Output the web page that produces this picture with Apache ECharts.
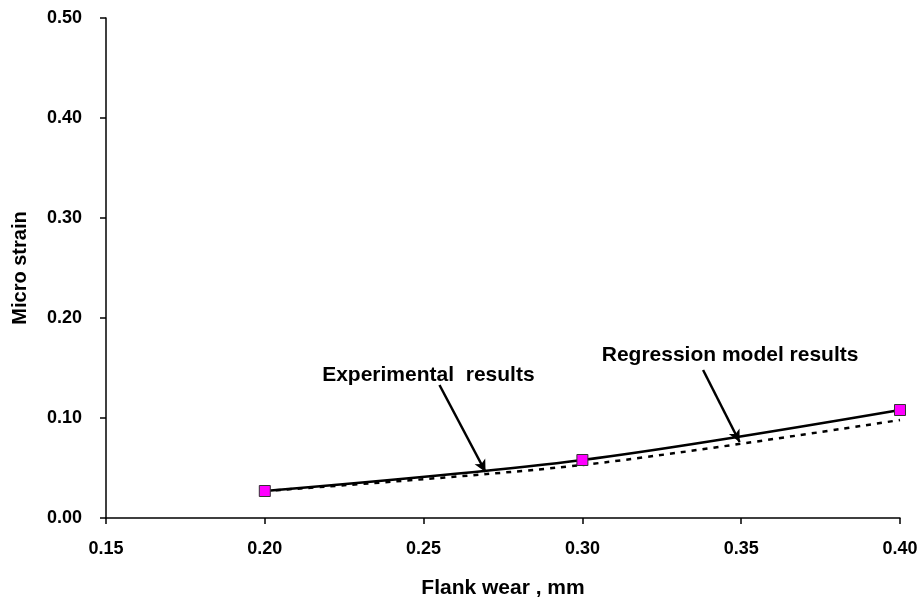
<!DOCTYPE html>
<html><head><meta charset="utf-8">
<script src="https://cdn.jsdelivr.net/npm/echarts@6/dist/echarts.min.js"></script>
<style>html,body{margin:0;padding:0;background:#fff}#c{width:918px;height:602px}</style>
</head><body><div id="c"></div>
<script>
const flankWear = [0.20, 0.30, 0.40];
const experimental = [0.027, 0.058, 0.108];
const regression = [0.027, 0.053, 0.098];
const xTicks = [0.15, 0.20, 0.25, 0.30, 0.35, 0.40];
const yTicks = [0.00, 0.10, 0.20, 0.30, 0.40, 0.50];
const labelExp = 'Experimental  results';
const labelReg = 'Regression model results';
const arrowExp = [[0.255, 0.133], [0.2695, 0.046]];
const arrowReg = [[0.338, 0.148], [0.3495, 0.076]];
const textExp = [0.2515, 0.143];
const textReg = [0.3465, 0.163];

const font = 'Liberation Sans, Arial, sans-serif';
const chart = echarts.init(document.getElementById('c'));
chart.setOption({
  animation: false,
  backgroundColor: '#fff',
  grid: {left: 106, right: 18, top: 18, bottom: 84, containLabel: false, outerBoundsMode: 'none'},
  xAxis: {
    type: 'value', min: 0.15, max: 0.40, interval: 0.05,
    name: 'Flank wear , mm', nameLocation: 'middle', nameGap: 60,
    nameTextStyle: {fontFamily: font, fontWeight: 'bold', fontSize: 21, color: '#000'},
    axisLine: {show: true, lineStyle: {color: '#000', width: 1.5}},
    axisTick: {show: true, inside: false, length: 6, lineStyle: {color: '#000', width: 1.5}},
    axisLabel: {fontFamily: font, fontWeight: 'bold', fontSize: 18, color: '#000', margin: 22,
      formatter: v => v.toFixed(2)},
    splitLine: {show: false}
  },
  yAxis: {
    type: 'value', min: 0, max: 0.5, interval: 0.1,
    name: 'Micro strain', nameLocation: 'middle', nameGap: 76, nameRotate: 90,
    nameTextStyle: {fontFamily: font, fontWeight: 'bold', fontSize: 20, color: '#000'},
    axisLine: {show: true, lineStyle: {color: '#000', width: 1.5}},
    axisTick: {show: true, inside: false, length: 6, lineStyle: {color: '#000', width: 1.5}},
    axisLabel: {fontFamily: font, fontWeight: 'bold', fontSize: 18, color: '#000', margin: 24,
      formatter: v => v.toFixed(2)},
    splitLine: {show: false}
  },
  series: [
    {
      name: 'Regression', type: 'line', z: 2,
      data: flankWear.map((x, i) => [x, regression[i]]),
      showSymbol: false, symbol: 'none', smooth: 0.3,
      lineStyle: {color: '#000', width: 2.5, type: [5, 6]}
    },
    {
      name: 'Experimental', type: 'line', z: 3,
      data: flankWear.map((x, i) => [x, experimental[i]]),
      symbol: 'rect', symbolSize: 11, smooth: 0.3,
      itemStyle: {color: '#ff00ff', borderColor: '#333', borderWidth: 1},
      lineStyle: {color: '#000', width: 2.5},
      markLine: {
        silent: true, symbol: ['none', 'arrow'], symbolSize: [9, 12],
        lineStyle: {color: '#000', width: 2.5, type: 'solid'},
        label: {show: false},
        data: [
          [{coord: arrowExp[0]}, {coord: arrowExp[1]}],
          [{coord: arrowReg[0]}, {coord: arrowReg[1]}]
        ]
      },
      markPoint: {
        silent: true, symbol: 'circle', symbolSize: 0,
        label: {show: true, position: 'inside', fontFamily: font, fontWeight: 'bold', fontSize: 21, color: '#000'},
        data: [
          {coord: textExp, label: {formatter: labelExp}},
          {coord: textReg, label: {formatter: labelReg}}
        ]
      }
    }
  ]
});
</script></body></html>
